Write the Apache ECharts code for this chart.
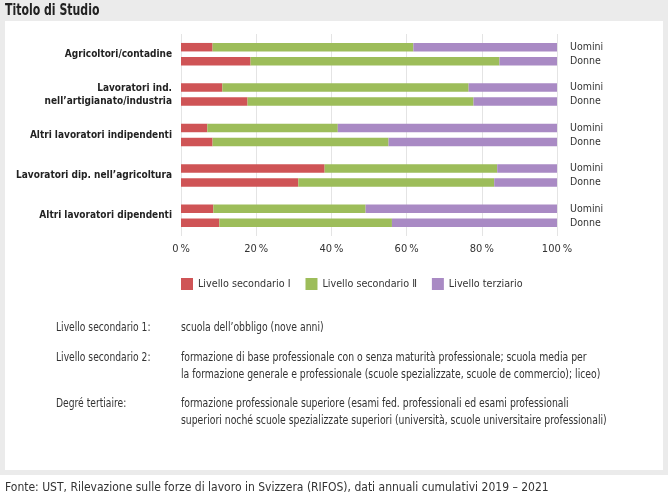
<!DOCTYPE html>
<html>
<head>
<meta charset="utf-8">
<script src="https://cdn.jsdelivr.net/npm/echarts@6/dist/echarts.min.js"></script>
<style>
  body { margin: 0; }
  #main { width: 668px; height: 500px; }
</style>
</head>
<body>
<div id="main"></div>
<script>
var categories = [
  "Agricoltori/contadine",
  "Lavoratori ind.\nnell\u2019artigianato/industria",
  "Altri lavoratori indipendenti",
  "Lavoratori dip. nell\u2019agricoltura",
  "Altri lavoratori dipendenti"
];
var levels = ["Livello secondario \u2160", "Livello secondario \u2161", "Livello terziario"];
var colors = ["#cf5456", "#9dbd5a", "#a98ac4"];

// percent, Uomini
var secIUomini = [8.4, 11.0, 7.0, 38.2, 8.6];
var secIIUomini = [53.4, 65.5, 34.7, 45.9, 40.5];
var terzUomini = [38.2, 23.5, 58.3, 15.9, 50.9];
// percent, Donne
var secIDonne = [18.5, 17.7, 8.4, 31.2, 10.2];
var secIIDonne = [66.2, 60.1, 46.8, 52.1, 45.9];
var terzDonne = [15.3, 22.2, 44.8, 16.7, 43.9];

var xTicks = [0, 20, 40, 60, 80, 100];

var notes = [
  ["Livello secondario 1:", "scuola dell\u2019obbligo (nove anni)"],
  ["Livello secondario 2:", "formazione di base professionale con o senza maturit\u00e0 professionale; scuola media per\nla formazione generale e professionale (scuole spezializzate, scuole de commercio); liceo)"],
  ["Degr\u00e9 tertiaire:", "formazione professionale superiore (esami fed. professionali ed esami professionali\nsuperiori noch\u00e9 scuole spezializzate superiori (universit\u00e0, scuole universitaire professionali)"]
];
var source = "Fonte: UST, Rilevazione sulle forze di lavoro in Svizzera (RIFOS), dati annuali cumulativi 2019 \u2013 2021";

var FONT = '"DejaVu Sans Condensed", "Liberation Sans", sans-serif';

var chartDom = document.getElementById("main");
var myChart = echarts.init(chartDom);

function makeSeries(name, stack, data, color, sideLabel) {
  var s = {
    name: name,
    type: "bar",
    stack: stack,
    data: data,
    barWidth: 8.5,
    barGap: "65%",
    itemStyle: { color: color },
    emphasis: { disabled: true }
  };
  if (sideLabel) {
    s.label = {
      show: true,
      position: "right",
      distance: 13,
      formatter: sideLabel,
      color: "#333",
      fontSize: 10.5,
      fontFamily: FONT
    };
  }
  return s;
}

var noteGraphics = [];
var noteY = [328, 358, 404];
notes.forEach(function (n, i) {
  noteGraphics.push({
    type: "text", x: 56, y: noteY[i], z: 10, scaleX: 0.85,
    style: { text: n[0], fill: "#333", font: "12px " + FONT, verticalAlign: "middle" }
  });
  noteGraphics.push({
    type: "text", x: 181, y: noteY[i] - 8.5, z: 10, scaleX: 0.86,
    style: { text: n[1], fill: "#333", font: "12px " + FONT, verticalAlign: "top", lineHeight: 17 }
  });
});

var option = {
  backgroundColor: "#ffffff",
  animation: false,
  textStyle: { fontFamily: FONT },
  graphic: [
    { type: "rect", shape: { x: 0, y: 0, width: 668, height: 475 }, style: { fill: "#ebebeb" }, z: -10, silent: true },
    { type: "rect", shape: { x: 5, y: 21, width: 658, height: 449 }, style: { fill: "#ffffff" }, z: -9, silent: true },
    {
      type: "text", x: 5, y: 11, z: 10, scaleX: 0.76,
      style: { text: "Titolo di Studio", fill: "#222", font: "bold 16px " + FONT, verticalAlign: "middle" }
    },
    {
      type: "text", x: 5, y: 488, z: 10,
      style: { text: source, fill: "#333", font: "12px " + FONT, verticalAlign: "middle" }
    }
  ].concat(noteGraphics),
  legend: {
    data: levels,
    left: 181,
    top: 278,
    padding: 0,
    itemWidth: 12,
    itemHeight: 12,
    itemGap: 15,
    icon: "rect",
    selectedMode: false,
    textStyle: { fontSize: 10.7, color: "#333", fontFamily: FONT }
  },
  grid: { left: 181, right: 111, top: 34, height: 202, containLabel: false, outerBoundsMode: "none" },
  xAxis: {
    type: "value",
    min: 0,
    max: 100,
    interval: 20,
    axisLine: { show: false },
    axisTick: { show: false },
    splitLine: { lineStyle: { color: "#e4e4e4" } },
    axisLabel: {
      formatter: function (v) { return xTicks.indexOf(v) >= 0 ? v + "\u2009%" : ""; },
      color: "#333",
      fontSize: 11,
      margin: 8,
      fontFamily: FONT
    }
  },
  yAxis: {
    type: "category",
    data: categories,
    inverse: true,
    axisLine: { show: false },
    axisTick: { show: false },
    axisLabel: {
      color: "#222",
      fontSize: 10,
      fontWeight: "bold",
      lineHeight: 13,
      margin: 9,
      fontFamily: FONT
    }
  },
  series: [
    makeSeries(levels[0], "U", secIUomini, colors[0]),
    makeSeries(levels[1], "U", secIIUomini, colors[1]),
    makeSeries(levels[2], "U", terzUomini, colors[2], "Uomini"),
    makeSeries(levels[0], "D", secIDonne, colors[0]),
    makeSeries(levels[1], "D", secIIDonne, colors[1]),
    makeSeries(levels[2], "D", terzDonne, colors[2], "Donne")
  ]
};

option && myChart.setOption(option);
</script>
</body>
</html>
